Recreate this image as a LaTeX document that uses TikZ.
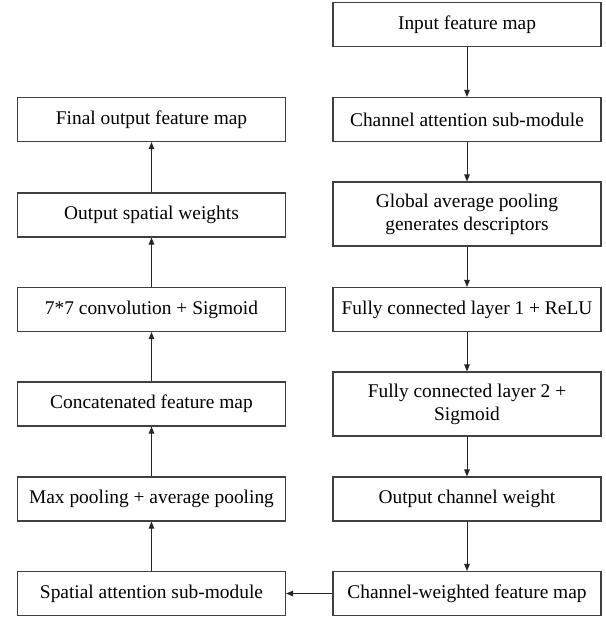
\documentclass[tikz,border=0pt]{standalone}
\usepackage{fontspec}
\setmainfont{Liberation Serif}
\usetikzlibrary{arrows.meta}

\begin{document}
\begin{tikzpicture}[
      x=1pt,y=-1pt,
      >={Triangle[length=7pt,width=5.5pt]},
      every node/.style={font=\fontsize{19.4}{23}\selectfont},
      blk/.style={draw=black!75,line width=1.1pt,minimum width=268pt,minimum height=44pt,inner sep=2pt,align=center},
      tall/.style={blk,minimum height=64pt},
      flow/.style={draw=black!85,line width=1pt,->}
    ]
    \useasboundingbox (0,0) rectangle (605,618);
    % channel attention column (right)
    \node[blk] (inp) at (467,24.5) {Input feature map};
    \node[blk] (cam) at (467,119.5) {Channel attention sub-module};
    \node[tall] (gap) at (467,214) {Global average pooling\\generates descriptors};
    \node[blk] (fc1) at (467,309.5) {Fully connected layer 1 + ReLU};
    \node[tall] (fc2) at (467,404) {Fully connected layer 2 +\\Sigmoid};
    \node[blk] (ocw) at (467,499) {Output channel weight};
    \node[blk] (cwf) at (467,593.5) {Channel-weighted feature map};
    % spatial attention column (left)
    \node[blk] (sam) at (151.5,593.5) {Spatial attention sub-module};
    \node[blk] (pool) at (151.5,499) {Max pooling + average pooling};
    \node[blk] (cat) at (151.5,404) {Concatenated feature map};
    \node[blk] (conv) at (151.5,309.5) {7*7 convolution + Sigmoid};
    \node[blk] (osw) at (151.5,215) {Output spatial weights};
    \node[blk] (fin) at (151.5,119.5) {Final output feature map};
    % arrows down the right column
    \foreach \a/\b in {inp/cam,cam/gap,gap/fc1,fc1/fc2,fc2/ocw,ocw/cwf}{\draw[flow] (\a) -- (\b);}
    % hand-over to the spatial part
    \draw[flow] (cwf) -- (sam);
    % arrows up the left column
    \foreach \a/\b in {sam/pool,pool/cat,cat/conv,conv/osw,osw/fin}{\draw[flow] (\a) -- (\b);}
  \end{tikzpicture}
\end{document}
